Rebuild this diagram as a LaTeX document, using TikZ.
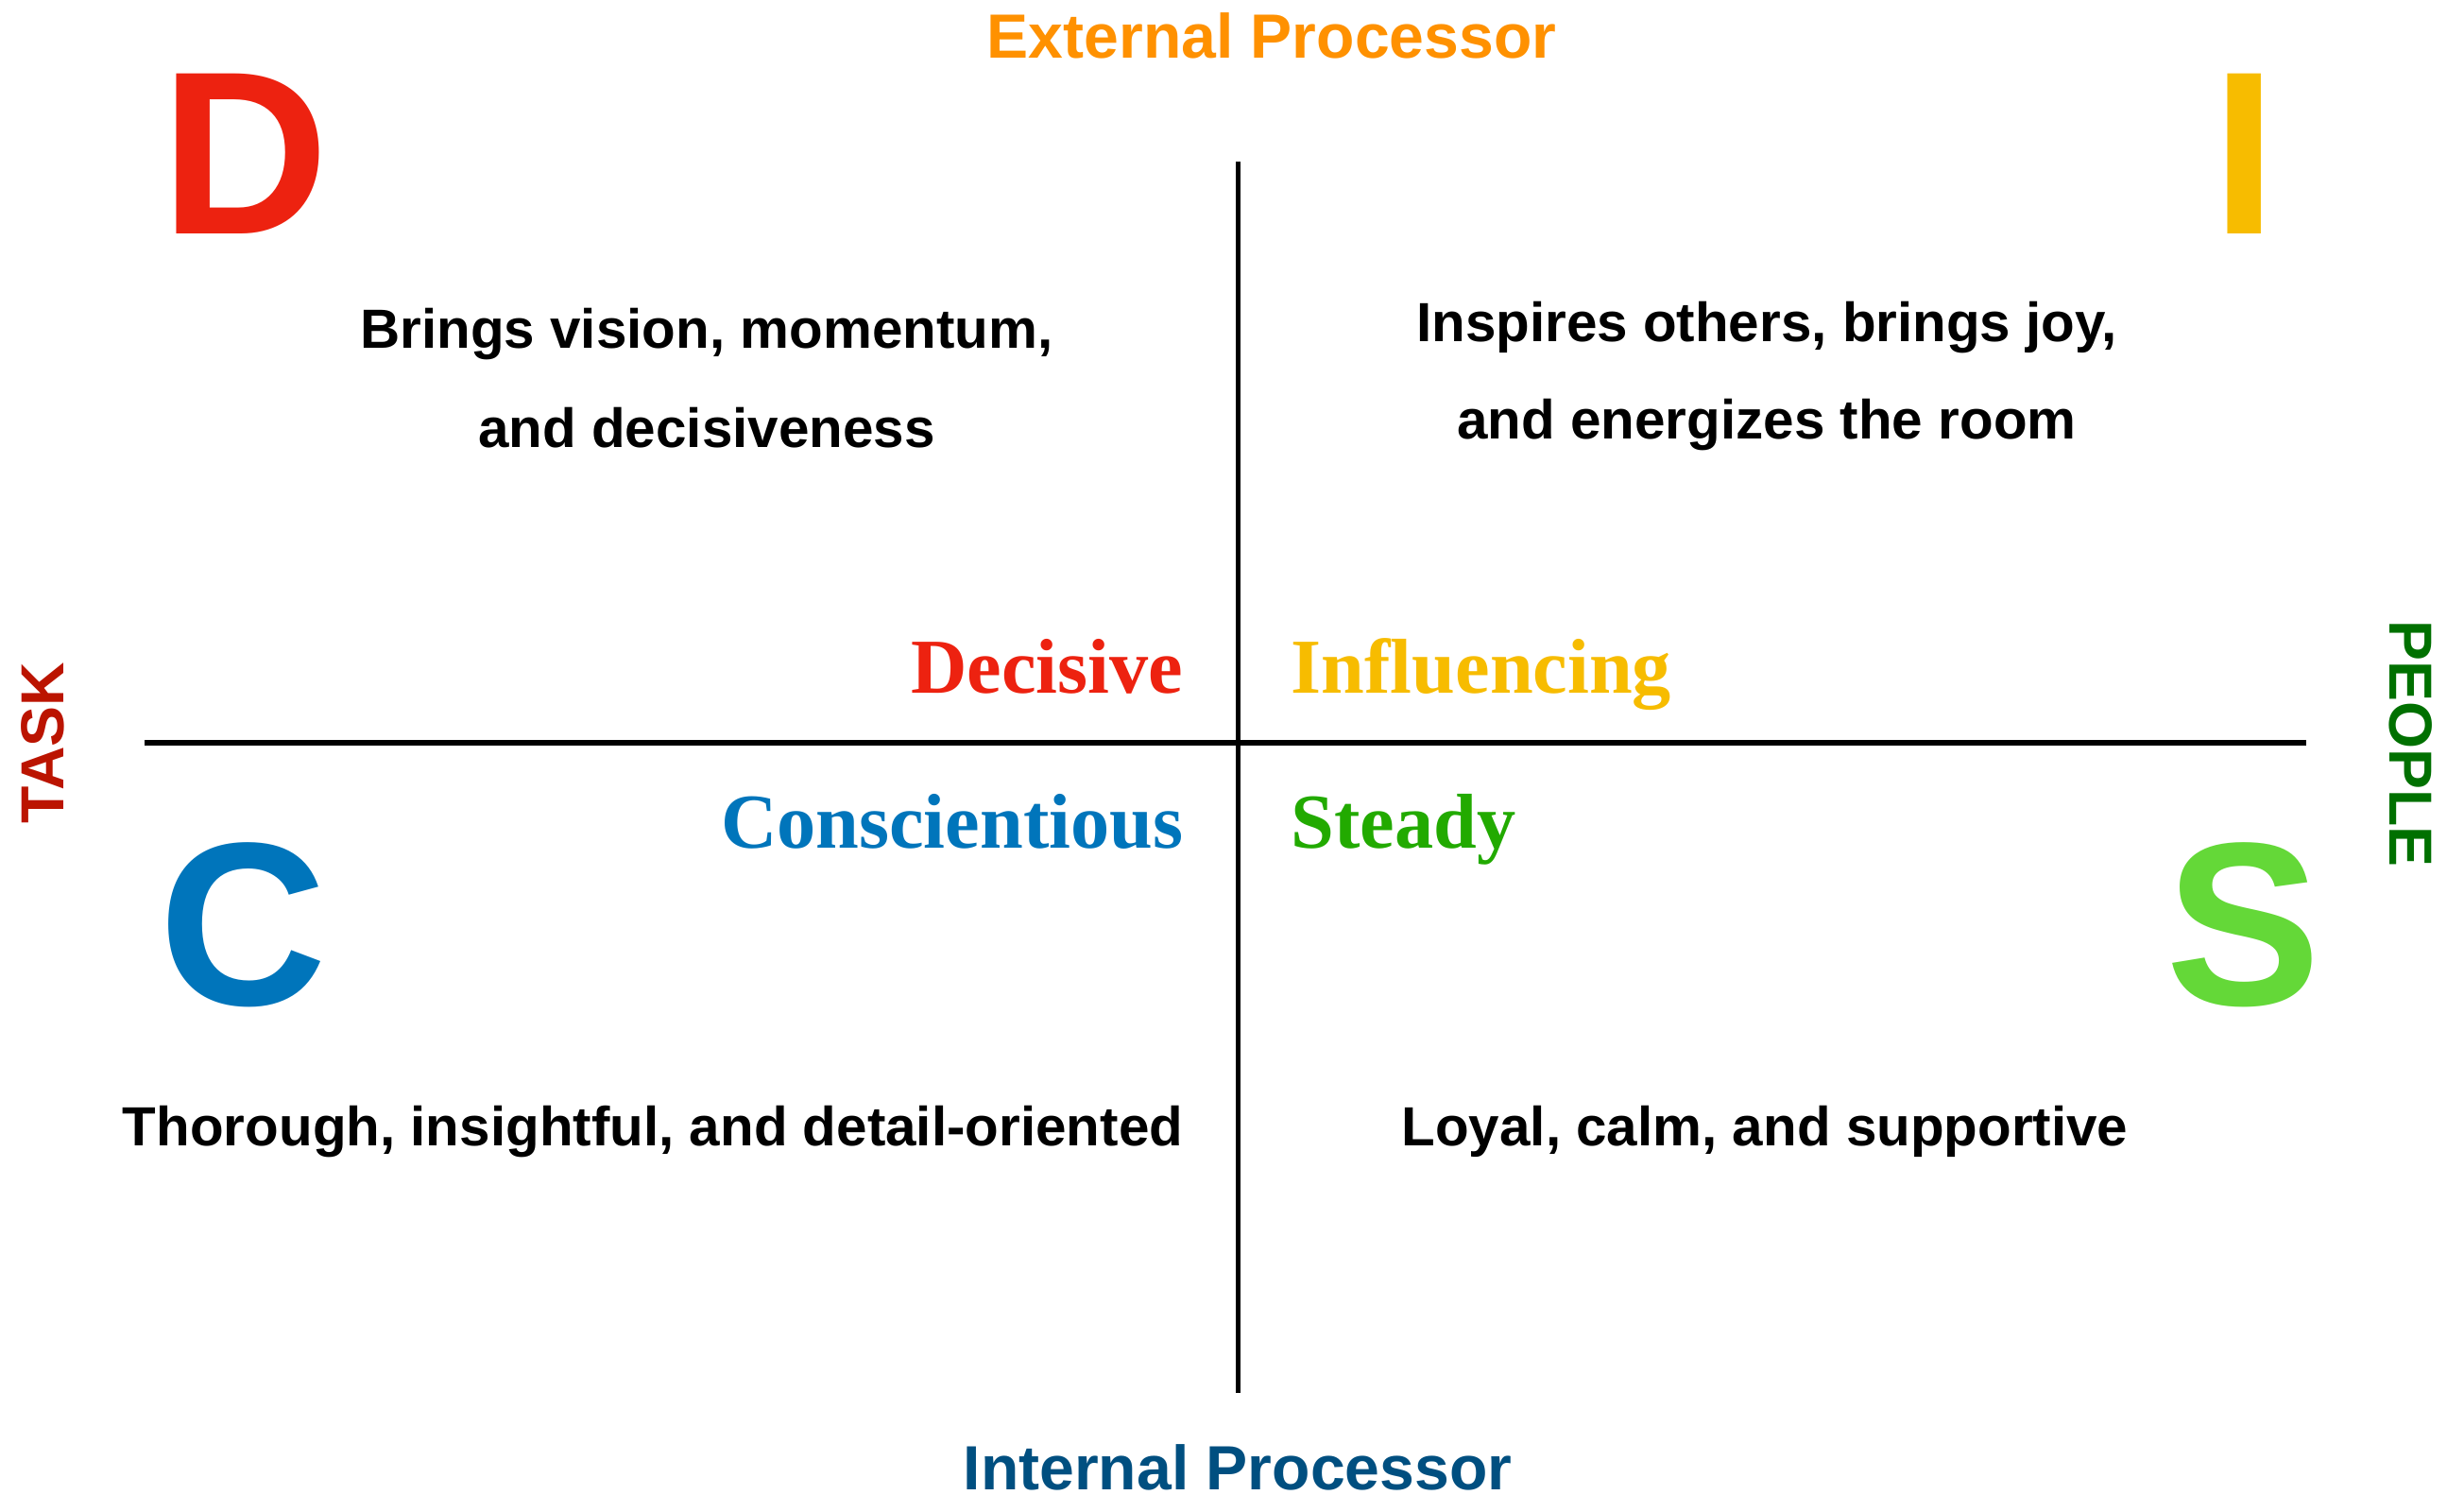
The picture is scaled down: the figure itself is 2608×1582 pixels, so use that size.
\documentclass[tikz,border=0pt]{standalone}
\usepackage{fontspec}
\newfontfamily\sansfam{Liberation Sans}
\newfontfamily\seriffam{Liberation Serif}
\definecolor{dred}{RGB}{237,34,16}
\definecolor{iyel}{RGB}{247,188,0}
\definecolor{cblue}{RGB}{0,117,187}
\definecolor{sgreen}{RGB}{100,216,56}
\definecolor{extorange}{RGB}{255,145,0}
\definecolor{intnavy}{RGB}{0,79,128}
\definecolor{taskred}{RGB}{187,20,0}
\definecolor{peoplegreen}{RGB}{0,112,0}
\definecolor{steadygreen}{RGB}{34,170,0}
\begin{document}
\begin{tikzpicture}[x=0.01cm,y=-0.01cm,
  bigletter/.style={inner sep=0pt, anchor=base, font=\sansfam\bfseries\fontsize{70}{84}\selectfont},
  bodytext/.style={inner sep=0pt, anchor=base, font=\sansfam\bfseries\fontsize{16.6}{20}\selectfont},
  axislabel/.style={inner sep=0pt, anchor=base, font=\sansfam\bfseries\fontsize{18.8}{22}\selectfont},
  sidelabel/.style={inner sep=0pt, anchor=center, font=\sansfam\bfseries\fontsize{18.3}{22}\selectfont},
  trait/.style={inner sep=0pt, font=\seriffam\bfseries\fontsize{23.4}{28}\selectfont},
  axisline/.style={draw=black}]
\fill[white] (0,0) rectangle (2608,1582);
\path[use as bounding box] (0,0) rectangle (2608,1582);

% axes
\coordinate (vtop) at (1310.5,171);
\coordinate (vbot) at (1310.5,1474);
\coordinate (hleft) at (153,786);
\coordinate (hright) at (2441,786);
\draw[axisline, line width=1.4pt] (vtop) -- (vbot);
\draw[axisline, line width=1.55pt] (hleft) -- (hright);

% axis labels
\node[axislabel, text=extorange] (ext) at (1346,62) {External Processor};
\node[axislabel, text=intnavy] (int) at (1310,1576) {Internal Processor};
\node[sidelabel, text=taskred, rotate=90] (task) at (45,786) {TASK};
\node[sidelabel, text=peoplegreen, rotate=-90] (people) at (2552,787) {PEOPLE};

% big letters
\node[bigletter, text=dred] (D) at (259,248) {D};
\node[bigletter, text=iyel] (I) at (2376,248) {I};
\node[bigletter, text=cblue] (C) at (257,1063) {C};
\node[bigletter, text=sgreen] (S) at (2375,1063) {S};

% trait words
\node[trait, anchor=base east, text=dred] (decisive) at (1253,733) {Decisive};
\node[trait, anchor=base east, text=cblue] (consc) at (1253,897) {Conscientious};
\node[trait, anchor=base west, text=iyel] (influ) at (1366,733) {Influencing};
\node[trait, anchor=base west, text=steadygreen] (steady) at (1366,897) {Steady};

% descriptions
\node[bodytext] (d1) at (748,369) {Brings vision, momentum,};
\node[bodytext] (d2) at (748,473) {and decisiveness};
\node[bodytext] (i1) at (1870,361) {Inspires others, brings joy,};
\node[bodytext] (i2) at (1870,464) {and energizes the room};
\node[bodytext] (c1) at (691,1212) {Thorough, insightful, and detail-oriented};
\node[bodytext] (s1) at (1868,1212) {Loyal, calm, and supportive};
\end{tikzpicture}
\end{document}
